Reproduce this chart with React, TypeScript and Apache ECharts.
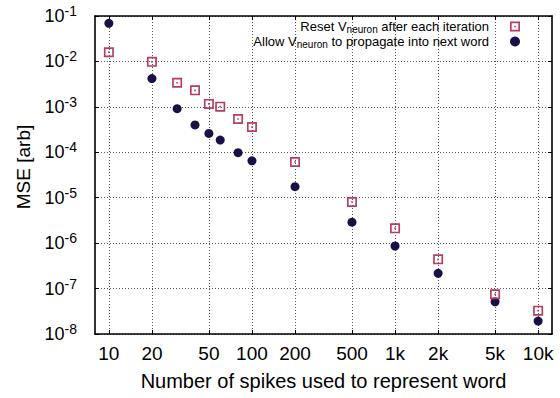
import { useEffect, useRef } from 'react';
import * as echarts from 'echarts';

const spikeCounts = [10, 20, 30, 40, 50, 60, 80, 100, 200, 500, 1000, 2000, 5000, 10000];
const resetMSE = [0.0159, 0.0098, 0.0034, 0.00231, 0.00116, 0.00101, 0.00054, 0.00036, 6.1e-5, 8.05e-6, 2.12e-6, 4.4e-7, 7.5e-8, 3.26e-8];
const propagateMSE = [0.069, 0.0042, 0.00091, 0.0004, 0.00026, 0.000186, 9.8e-5, 6.5e-5, 1.75e-5, 2.9e-6, 8.65e-7, 2.17e-7, 5.1e-8, 1.93e-8];
const xTickValues = [10, 20, 50, 100, 200, 500, 1000, 2000, 5000, 10000];
const xTickLabels = ['10', '20', '50', '100', '200', '500', '1k', '2k', '5k', '10k'];
const seriesNames = ['reset', 'propagate'];
const legendLabels = [
  'Reset V{sub|neuron} after each iteration',
  'Allow V{sub|neuron} to propagate into next word',
];
const xTitle = 'Number of spikes used to represent word';
const yTitle = 'MSE [arb]';

const FONT = '"Liberation Sans", Arial, Helvetica, sans-serif';
const SQUARE = 'path://M0,0H12V12H0Z M2,2V10H10V2Z M5,5H7V7H5Z';

export default function App() {
  const ref = useRef<HTMLDivElement>(null);
  useEffect(() => {
    if (!ref.current) return;
    const chart = echarts.init(ref.current, null, { renderer: 'svg' });
    const xLabel = (v: number) => {
      const i = xTickValues.findIndex((t) => Math.abs(t - v) / t < 1e-6);
      return i >= 0 ? xTickLabels[i] : '';
    };
    const gridLine = { show: true, lineStyle: { color: '#555', width: 1, type: [1, 2] as any } };
    const axisLine = { show: true, onZero: false, lineStyle: { color: '#000', width: 1.6 } };
    const legendCommon = {
      right: 40,
      orient: 'vertical' as const,
      align: 'right' as const,
      padding: 0,
      itemWidth: 10,
      itemHeight: 10,
      selectedMode: false,
      formatter: (name: string) => legendLabels[seriesNames.indexOf(name)],
      textStyle: {
        fontFamily: FONT,
        fontSize: 13,
        color: '#000',
        padding: [0, 16, 0, 0],
        rich: {
          sub: { fontFamily: FONT, fontSize: 10, color: '#000', padding: [6, 0, 0, 0] },
        },
      },
    };
    chart.setOption({
      animation: false,
      backgroundColor: '#fff',
      grid: { left: 95, right: 8, top: 16, bottom: 64, containLabel: false },
      legend: [
        { ...legendCommon, top: 20, data: [seriesNames[0]] },
        { ...legendCommon, top: 35, data: [seriesNames[1]] },
      ],
      xAxis: [
        {
          type: 'log',
          logBase: 10,
          min: 8,
          max: 12500,
          position: 'bottom',
          name: xTitle,
          nameLocation: 'middle',
          nameGap: 37,
          nameTextStyle: { fontFamily: FONT, fontSize: 20, color: '#000' },
          axisLine,
          axisTick: { show: true, inside: true, length: 4, customValues: xTickValues, lineStyle: { color: '#000' } },
          axisLabel: {
            show: true,
            customValues: xTickValues,
            formatter: xLabel,
            fontFamily: FONT,
            fontSize: 19,
            color: '#000',
            margin: 10,
          },
          splitLine: gridLine,
          minorTick: { show: false },
        },
        {
          type: 'log',
          logBase: 10,
          min: 8,
          max: 12500,
          position: 'top',
          axisLine,
          axisTick: { show: true, inside: true, length: 4, customValues: xTickValues, lineStyle: { color: '#000' } },
          axisLabel: { show: false },
          splitLine: { show: false },
        },
      ],
      yAxis: [
        {
          type: 'log',
          logBase: 10,
          min: 1e-8,
          max: 1e-1,
          position: 'left',
          name: yTitle,
          nameLocation: 'middle',
          nameGap: 62,
          nameTextStyle: { fontFamily: FONT, fontSize: 19, color: '#000', padding: [0, 0, 0, 16] },
          axisLine,
          axisTick: { show: true, inside: true, length: 4, lineStyle: { color: '#000' } },
          axisLabel: {
            fontFamily: FONT,
            color: '#000',
            margin: 18,
            formatter: (v: number) => `{b|10}{s|${Math.round(Math.log10(v))}}`,
            rich: {
              b: { fontFamily: FONT, fontSize: 18, color: '#000' },
              s: { fontFamily: FONT, fontSize: 14, color: '#000', padding: [0, 0, 10, 0] },
            },
          },
          splitLine: gridLine,
        },
        {
          type: 'log',
          logBase: 10,
          min: 1e-8,
          max: 1e-1,
          position: 'right',
          axisLine,
          axisTick: { show: true, inside: true, length: 4, lineStyle: { color: '#000' } },
          axisLabel: { show: false },
          splitLine: { show: false },
        },
      ],
      series: [
        {
          name: seriesNames[0],
          type: 'scatter',
          xAxisIndex: 0,
          yAxisIndex: 0,
          symbol: SQUARE,
          symbolSize: 10,
          itemStyle: { color: '#b53d60', opacity: 1 },
          data: spikeCounts.map((x, i) => [x, resetMSE[i]]),
          z: 3,
        },
        {
          name: seriesNames[1],
          type: 'scatter',
          xAxisIndex: 0,
          yAxisIndex: 0,
          symbol: 'circle',
          symbolSize: 9,
          itemStyle: { color: '#1b0f45', opacity: 1 },
          data: spikeCounts.map((x, i) => [x, propagateMSE[i]]),
          z: 2,
        },
      ],
    });
    return () => chart.dispose();
  }, []);
  return <div ref={ref} style={{ width: 560, height: 398, position: 'absolute', left: 0, top: 0 }} />;
}
